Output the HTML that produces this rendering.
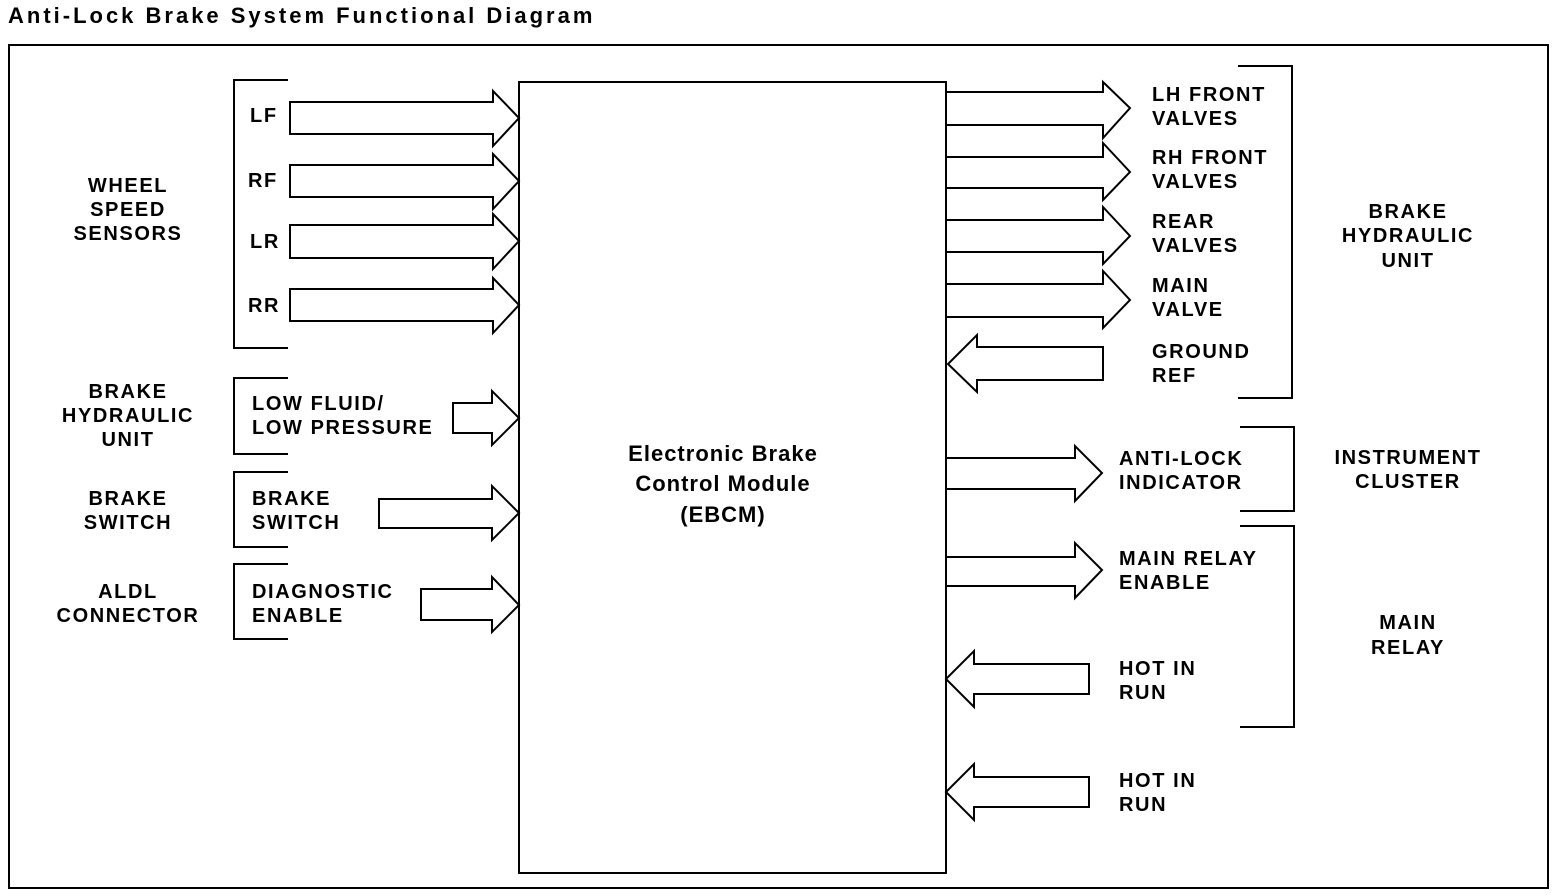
<!DOCTYPE html>
<html><head><meta charset="utf-8"><style>
html,body{margin:0;padding:0;background:#fff;}
svg{display:block;}
text{font-family:"Liberation Sans",sans-serif;font-weight:bold;font-size:20px;letter-spacing:1.6px;fill:#000;}
</style></head><body>
<svg width="1568" height="896" viewBox="0 0 1568 896" xmlns="http://www.w3.org/2000/svg">
<text x="8" y="23" style="font-size:22px;letter-spacing:0.6px" textLength="585">Anti-Lock Brake System Functional Diagram</text>
<g fill="none" stroke="#000" stroke-width="2">
<rect x="9" y="45" width="1539" height="843"/>
<rect x="519" y="82" width="427" height="791"/>
<!-- left brackets -->
<polyline points="288,80 234,80 234,348 288,348"/>
<polyline points="288,378 234,378 234,454 288,454"/>
<polyline points="288,472 234,472 234,547 288,547"/>
<polyline points="288,564 234,564 234,639 288,639"/>
<!-- right brackets -->
<polyline points="1238,66 1292,66 1292,398 1238,398"/>
<polyline points="1240,427 1294,427 1294,511 1240,511"/>
<polyline points="1240,526 1294,526 1294,727 1240,727"/>
<!-- left input arrows -->
<polygon points="290,102 493,102 493,91 519,118 493,146 493,134 290,134"/>
<polygon points="290,165 493,165 493,154 519,181 493,209 493,197 290,197"/>
<polygon points="290,225 493,225 493,214 519,241 493,269 493,258 290,258"/>
<polygon points="290,289 493,289 493,278 519,305 493,333 493,321 290,321"/>
<polygon points="453,403 492,403 492,391 519,418 492,445 492,433 453,433"/>
<polygon points="379,499 492,499 492,486 519,513 492,540 492,528 379,528"/>
<polygon points="421,589 492,589 492,577 519,605 492,632 492,620 421,620"/>
<!-- right output arrows -->
<polygon points="946,92 1103,92 1103,82 1130,108 1103,138 1103,125 946,125"/>
<polygon points="946,157 1103,157 1103,143 1130,172 1103,200 1103,188 946,188"/>
<polygon points="946,220 1103,220 1103,207 1130,236 1103,264 1103,252 946,252"/>
<polygon points="946,284 1103,284 1103,271 1130,300 1103,328 1103,317 946,317"/>
<polygon points="1103,347 977,347 977,335 948,364 977,392 977,380 1103,380"/>
<polygon points="946,458 1075,458 1075,446 1102,473 1075,501 1075,489 946,489"/>
<polygon points="946,557 1075,557 1075,543 1102,570 1075,598 1075,586 946,586"/>
<polygon points="1089,664 974,664 974,651 946,679 974,707 974,694 1089,694"/>
<polygon points="1089,777 974,777 974,764 946,792 974,820 974,807 1089,807"/>
</g>
<g text-anchor="middle">
<text x="128" y="192">WHEEL</text><text x="128" y="216">SPEED</text><text x="128" y="240">SENSORS</text>
<text x="128" y="398">BRAKE</text><text x="128" y="422">HYDRAULIC</text><text x="128" y="446">UNIT</text>
<text x="128" y="505">BRAKE</text><text x="128" y="529">SWITCH</text>
<text x="128" y="598">ALDL</text><text x="128" y="622">CONNECTOR</text>
<text x="1408" y="218">BRAKE</text><text x="1408" y="242">HYDRAULIC</text><text x="1408" y="267">UNIT</text>
<text x="1408" y="464">INSTRUMENT</text><text x="1408" y="488">CLUSTER</text>
<text x="1408" y="629">MAIN</text><text x="1408" y="654">RELAY</text>
<text x="723" y="461" style="letter-spacing:1px;font-size:22px">Electronic Brake</text>
<text x="723" y="491" style="letter-spacing:1px;font-size:22px">Control Module</text>
<text x="723" y="522" style="letter-spacing:1px;font-size:22px">(EBCM)</text>
</g>
<text x="250" y="122">LF</text><text x="248" y="187">RF</text><text x="250" y="248">LR</text><text x="248" y="312">RR</text>
<text x="252" y="410">LOW FLUID/</text><text x="252" y="434">LOW PRESSURE</text>
<text x="252" y="505">BRAKE</text><text x="252" y="529">SWITCH</text>
<text x="252" y="598">DIAGNOSTIC</text><text x="252" y="622">ENABLE</text>
<text x="1152" y="101">LH FRONT</text><text x="1152" y="125">VALVES</text>
<text x="1152" y="164">RH FRONT</text><text x="1152" y="188">VALVES</text>
<text x="1152" y="228">REAR</text><text x="1152" y="252">VALVES</text>
<text x="1152" y="292">MAIN</text><text x="1152" y="316">VALVE</text>
<text x="1152" y="358">GROUND</text><text x="1152" y="382">REF</text>
<text x="1119" y="465">ANTI-LOCK</text><text x="1119" y="489">INDICATOR</text>
<text x="1119" y="565">MAIN RELAY</text><text x="1119" y="589">ENABLE</text>
<text x="1119" y="675">HOT IN</text><text x="1119" y="699">RUN</text>
<text x="1119" y="787">HOT IN</text><text x="1119" y="811">RUN</text>
</svg>
</body></html>
